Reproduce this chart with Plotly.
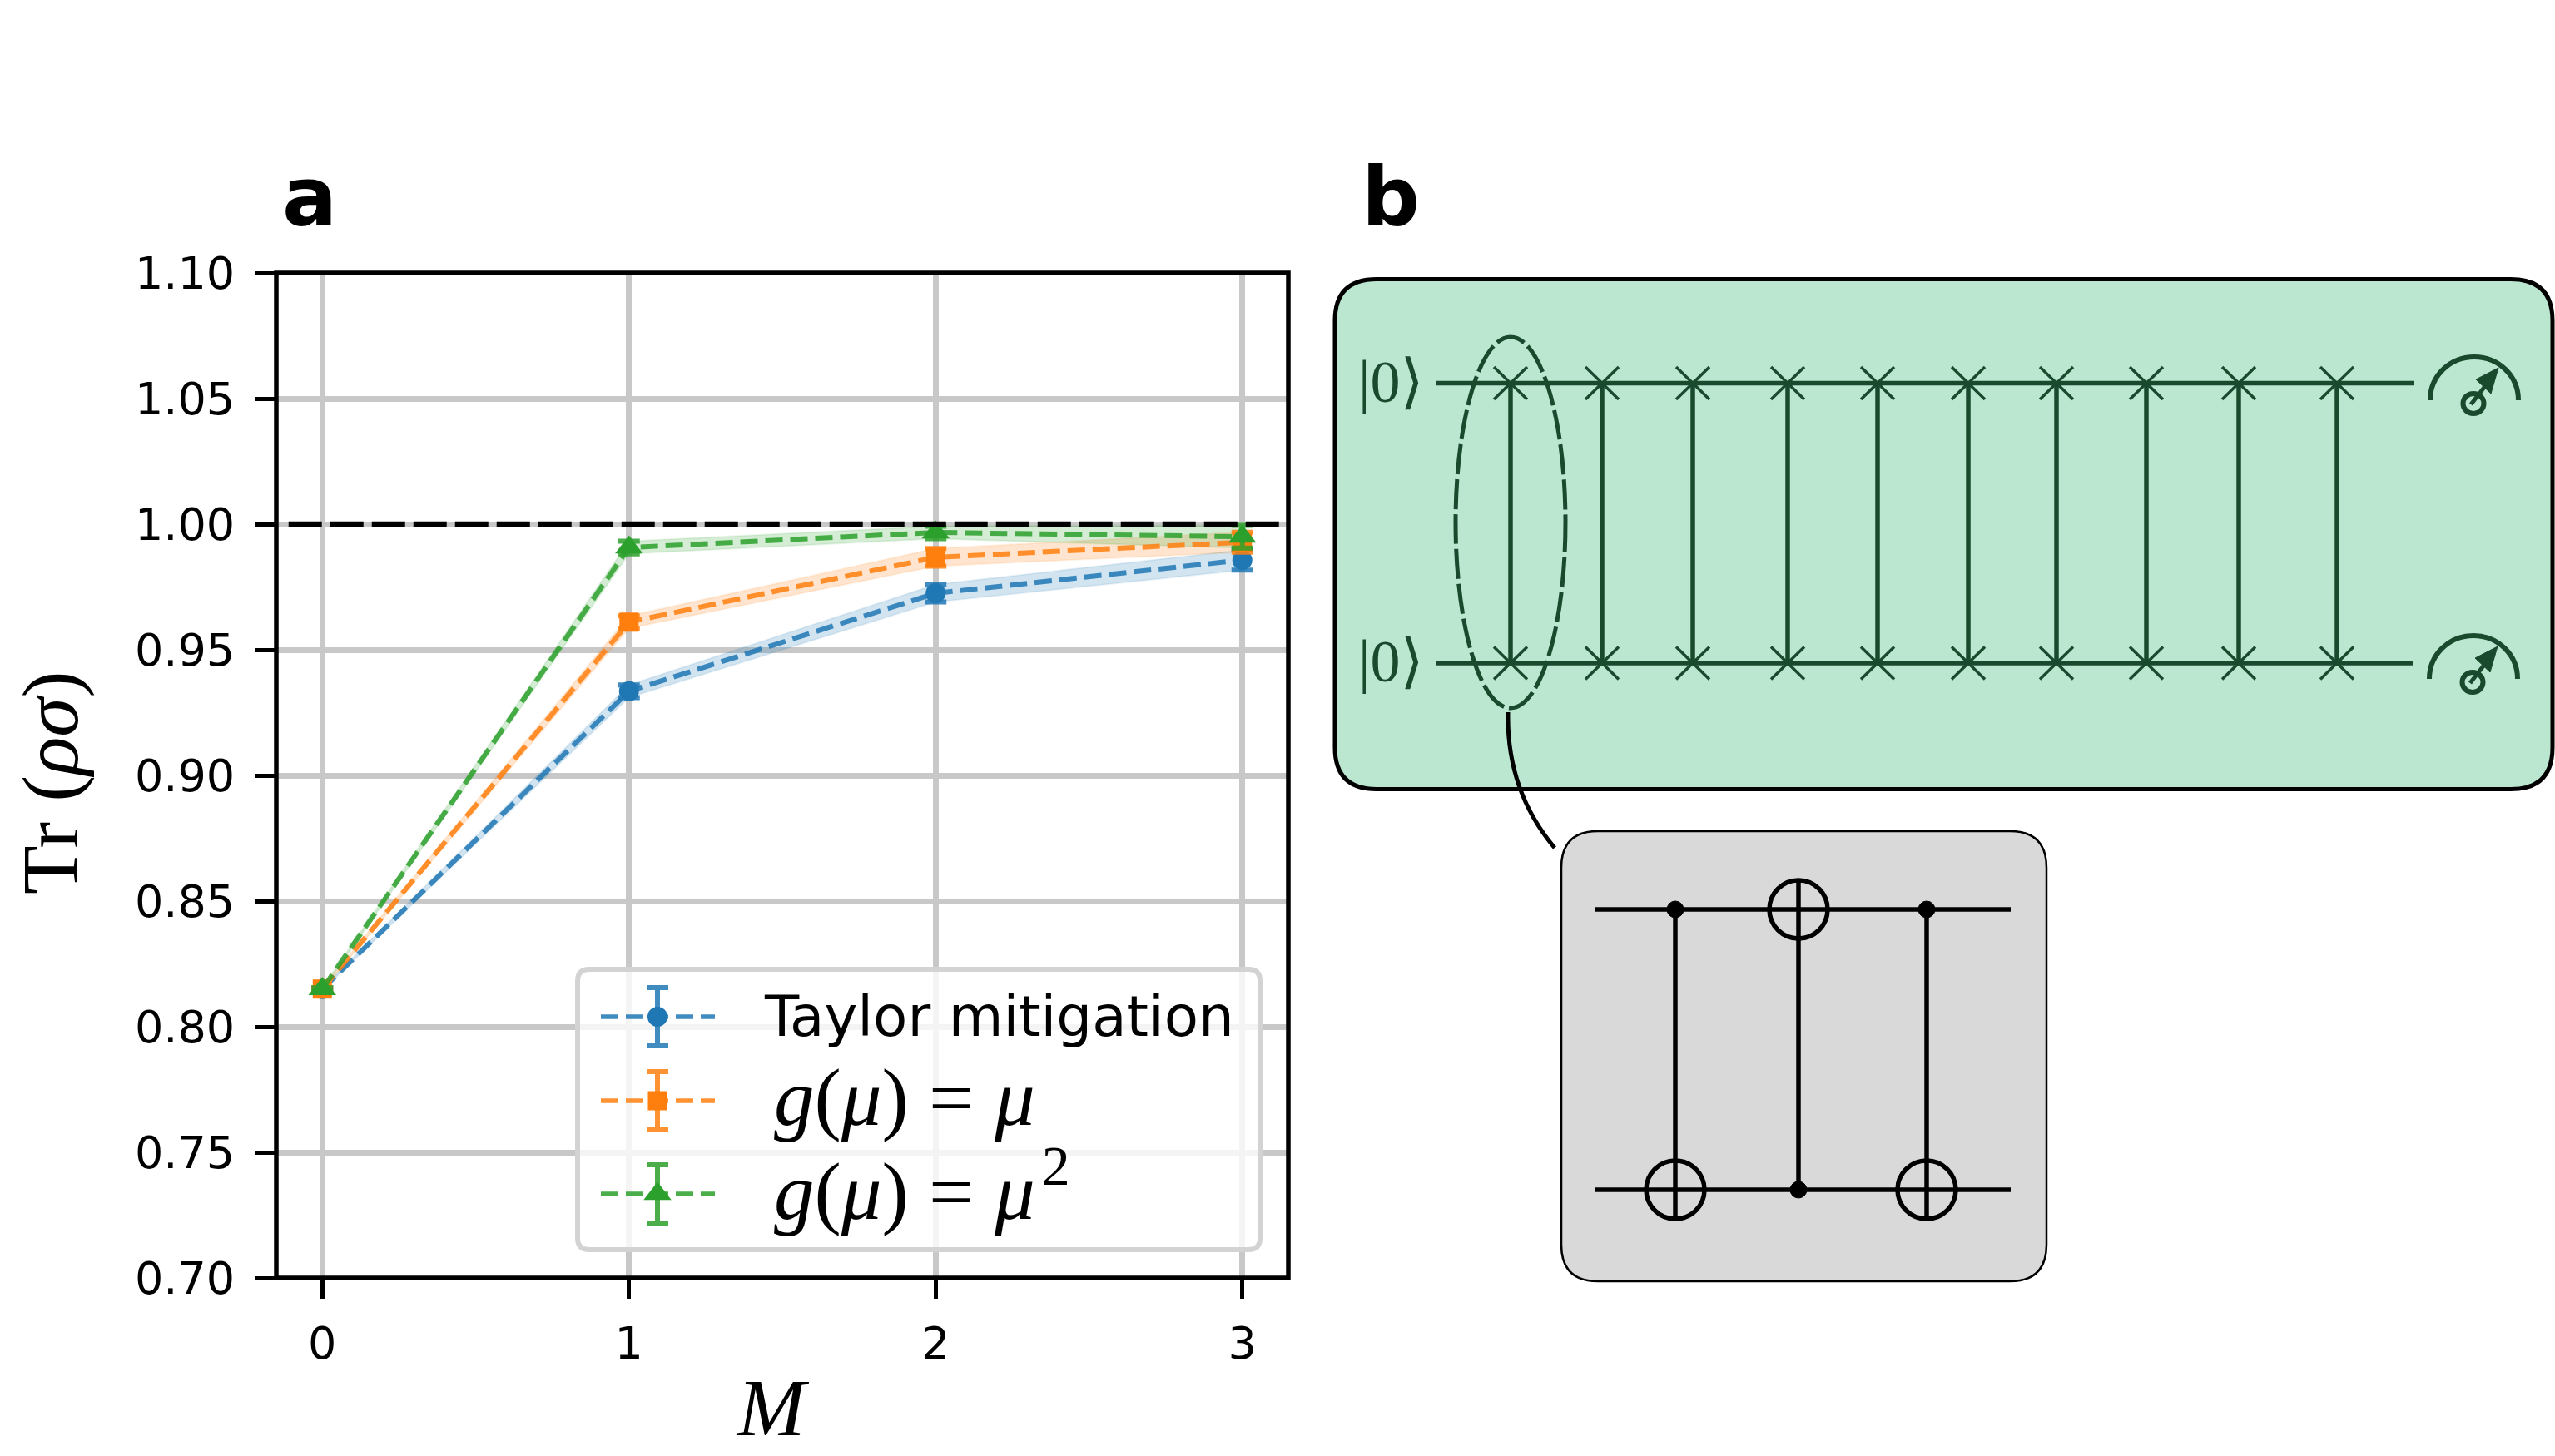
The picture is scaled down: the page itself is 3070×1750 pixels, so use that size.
import plotly.graph_objects as go

W, H = 3070, 1750

# ---------- data ----------
M = [0, 1, 2, 3]
y_ticks = [0.70, 0.75, 0.80, 0.85, 0.90, 0.95, 1.00, 1.05, 1.10]
taylor = [0.815, 0.9335, 0.9725, 0.9857]
g_mu = [0.815, 0.961, 0.9868, 0.9928]
g_mu2 = [0.815, 0.9907, 0.9967, 0.995]
taylor_err = [0.0005, 0.0025, 0.0035, 0.004]
g_mu_err = [0.0005, 0.0025, 0.0035, 0.004]
g_mu2_err = [0.0005, 0.0025, 0.0025, 0.0045]
ref_x = [-0.11, 3.12]
ref_y = [1.0, 1.0]
labels = ["Taylor mitigation", "<i>g</i>(<i>μ</i>) = <i>μ</i>", "<i>g</i>(<i>μ</i>) = <i>μ</i>\u200a<sup>2</sup>"]

BLUE, ORANGE, GREEN = (31, 119, 180), (255, 127, 14), (44, 160, 44)
def rgba(c, a):
    return f"rgba({c[0]},{c[1]},{c[2]},{a})"

DK = "#1a4a2e"
SERIF = "Liberation Serif, DejaVu Serif, serif"
SANS = "DejaVu Sans"

fig = go.Figure()

series = [
    (labels[0], taylor, taylor_err, BLUE, "circle", 24),
    (labels[1], g_mu, g_mu_err, ORANGE, "square", 23),
    (labels[2], g_mu2, g_mu2_err, GREEN, "triangle-up", 29),
]

# bands, lines, markers with error bars
for name, vals, err, col, sym, size in series:
    upper = [v + e for v, e in zip(vals, err)]
    lower = [v - e for v, e in zip(vals, err)]
    fig.add_trace(go.Scatter(x=M + M[::-1], y=upper + lower[::-1], mode="lines",
                             fill="toself", fillcolor=rgba(col, 0.2),
                             line=dict(width=2, color=rgba(col, 0.1)), showlegend=False, hoverinfo="skip"))
for name, vals, err, col, sym, size in series:
    fig.add_trace(go.Scatter(x=M, y=vals, mode="lines+markers", name=name, showlegend=False,
                             line=dict(color=rgba(col, 0.85), width=6, dash="21px,9px"),
                             marker=dict(symbol=sym, size=size, color=rgba(col, 1), line=dict(width=0)),
                             error_y=dict(type="data", array=err, color=rgba(col, 0.85), thickness=6, width=13)))

fig.add_trace(go.Scatter(x=ref_x, y=ref_y, mode="lines", showlegend=False,
                         line=dict(color="black", width=6.5, dash="40px,10px")))

shapes, annots = [], []

def L(x0, y0, x1, y1, color=DK, width=5.5, layer="above"):
    shapes.append(dict(type="line", xref="x2", yref="y2", x0=x0, y0=y0, x1=x1, y1=y1,
                       line=dict(color=color, width=width), layer=layer))

def rounded(x0, y0, x1, y1, r):
    return (f"M {x0+r} {y0} L {x1-r} {y0} Q {x1} {y0} {x1} {y0+r} L {x1} {y1-r} Q {x1} {y1} {x1-r} {y1} "
            f"L {x0+r} {y1} Q {x0} {y1} {x0} {y1-r} L {x0} {y0+r} Q {x0} {y0} {x0+r} {y0} Z")

def P(path, color=DK, width=5.5, fill=None, layer="above", dash=None):
    ln = dict(color=color, width=width)
    if dash:
        ln["dash"] = dash
    d = dict(type="path", xref="x2", yref="y2", path=path, line=ln, layer=layer)
    if fill:
        d["fillcolor"] = fill
    shapes.append(d)

def C(cx, cy, rx, ry, color=DK, width=5.5, fill=None, dash=None):
    ln = dict(color=color, width=width)
    if dash:
        ln["dash"] = dash
    d = dict(type="circle", xref="x2", yref="y2", x0=cx-rx, x1=cx+rx, y0=cy-ry, y1=cy+ry, line=ln, layer="above")
    if fill:
        d["fillcolor"] = fill
    shapes.append(d)

def T(x, y, text, size, family=SERIF, color="black", xanchor="left", yanchor="middle", bold=False, angle=0):
    annots.append(dict(xref="x2", yref="y2", x=x, y=y, text=f"<b>{text}</b>" if bold else text, showarrow=False,
                       xanchor=xanchor, yanchor=yanchor, font=dict(size=size, family=family, color=color),
                       borderpad=0, borderwidth=0, textangle=angle))

# axes frame
shapes.append(dict(type="rect", xref="x2", yref="y2", x0=332, x1=1548, y0=328, y1=1536,
                   line=dict(color="black", width=5.5), layer="above"))

# legend box sits on overlay subplot, under the glyph traces
shapes.append(dict(type="path", xref="x2", yref="y2", path=rounded(694, 1165, 1514, 1502, 14),
                   line=dict(color="#d3d3d3", width=6), fillcolor="rgba(255,255,255,0.8)", layer="below"))

legend_rows = [1222, 1323, 1435]
for (name, vals, err, col, sym, size), ry in zip(series, legend_rows):
    fig.add_trace(go.Scatter(x=[722, 859], y=[ry, ry], xaxis="x2", yaxis="y2", mode="lines", showlegend=False,
                             line=dict(color=rgba(col, 0.85), width=5.5, dash="21px,9px")))
    fig.add_trace(go.Scatter(x=[790], y=[ry], xaxis="x2", yaxis="y2", mode="markers", showlegend=False,
                             marker=dict(symbol=sym, size=size, color=rgba(col, 1), line=dict(width=0)),
                             error_y=dict(type="constant", value=35, color=rgba(col, 0.85), thickness=6, width=13)))

T(918, 1221, labels[0], 67.5, family=SANS)
T(930, 1319, labels[1], 97)
T(930, 1424, labels[2], 97)

# axis titles
T(928, 1692, "<i>M</i>", 98, xanchor="center")
T(60, 941, "Tr (<i>ρσ</i>)", 96, xanchor="center", angle=-90)

# panel labels
T(339, 237, "a", 98, family=SANS, bold=True)
T(1636, 237, "b", 98, family=SANS, bold=True)

# green panel
P(rounded(1604, 335.5, 3067, 948.5, 50), color="black", width=5, fill="#bbe7d1", layer="above")

wire_top, wire_bot = 460.5, 797
L(1726, wire_top, 2900, wire_top)
L(1725, wire_bot, 2899, wire_bot)
gate_x = [1815, 1925, 2034, 2148, 2256, 2365, 2471, 2579, 2690, 2808]
for gx in gate_x:
    L(gx, wire_top, gx, wire_bot)
    for wy in (wire_top, wire_bot):
        L(gx-20, wy-19.5, gx+20, wy+19.5, width=3.5)
        L(gx-20, wy+19.5, gx+20, wy-19.5, width=3.5)

for wy in (wire_top, wire_bot):
    T(1632, wy - 2, "|0⟩", 72, color=DK)

# dashed ellipse and connector
C(1815, 628, 66, 223, dash="36px,6px", width=5)
P("M 1812 856 Q 1810 950 1868 1019", color="black", width=5)

# meters
for dy, dx in ((0, 0), (335, -1)):
    cx, by = 2973 + dx, 481 + dy
    r, k = 53, 0.5523 * 53
    P(f"M {cx-r} {by} C {cx-r} {by-k} {cx-k} {by-52} {cx} {by-52} C {cx+k} {by-52} {cx+r} {by-k} {cx+r} {by}", width=6)
    C(2972 + dx, 485 + dy, 12.5, 12, width=6)
    L(2969 + dx, 486 + dy, 2990 + dx, 459 + dy, width=5)
    P(f"M {3002+dx} {442+dy} L {2975+dx} {456+dy} L {2993+dx} {473+dy} Z", width=1, fill=DK)

# grey inset
P(rounded(1876, 999, 2459, 1540, 44), color="black", width=2.5, fill="#d9d9d9")
in_top, in_bot = 1093, 1430
L(1916, in_top, 2416, in_top, color="black")
L(1916, in_bot, 2416, in_bot, color="black")
cnots = [(2013, in_top, in_bot), (2161, in_bot, in_top), (2315, in_top, in_bot)]
for cx, ctrl, targ in cnots:
    edge = targ + 35 if targ > ctrl else targ - 35
    L(cx, ctrl, cx, edge, color="black")
    C(cx, ctrl, 10, 10, color="black", width=1, fill="black")
    C(cx, targ, 35, 35, color="black")

fig.update_layout(
    width=W, height=H, autosize=False, margin=dict(l=0, r=0, t=0, b=0, pad=0),
    paper_bgcolor="white", plot_bgcolor="rgba(0,0,0,0)", showlegend=False,
    shapes=shapes, annotations=annots,
    xaxis=dict(domain=[332/W, 1548/W], range=[-0.15, 3.15], tickmode="array", tickvals=M, ticktext=[str(m) for m in M],
               showgrid=True, gridcolor="#c8c8c8", gridwidth=7, zeroline=False, showline=False,
               ticks="outside", ticklen=24, tickwidth=5, tickcolor="black",
               tickfont=dict(size=54, family=SANS, color="black"), ticklabelstandoff=7, automargin=False),
    yaxis=dict(domain=[1-1536/H, 1-328/H], range=[0.70, 1.10], tickmode="array", tickvals=y_ticks,
               ticktext=[f"{t:.2f}" for t in y_ticks],
               showgrid=True, gridcolor="#c8c8c8", gridwidth=7, zeroline=False, showline=False,
               ticks="outside", ticklen=24, tickwidth=5, tickcolor="black",
               tickfont=dict(size=54, family=SANS, color="black"), ticklabelstandoff=14, automargin=False),
    xaxis2=dict(domain=[0, 1], range=[0, W], visible=False, anchor="y2", fixedrange=True),
    yaxis2=dict(domain=[0, 1], range=[H, 0], visible=False, anchor="x2", fixedrange=True),
)

fig.write_html("out.html", config=dict(displayModeBar=False),
               post_script="document.body.style.margin='0';document.body.style.overflow='hidden';")
